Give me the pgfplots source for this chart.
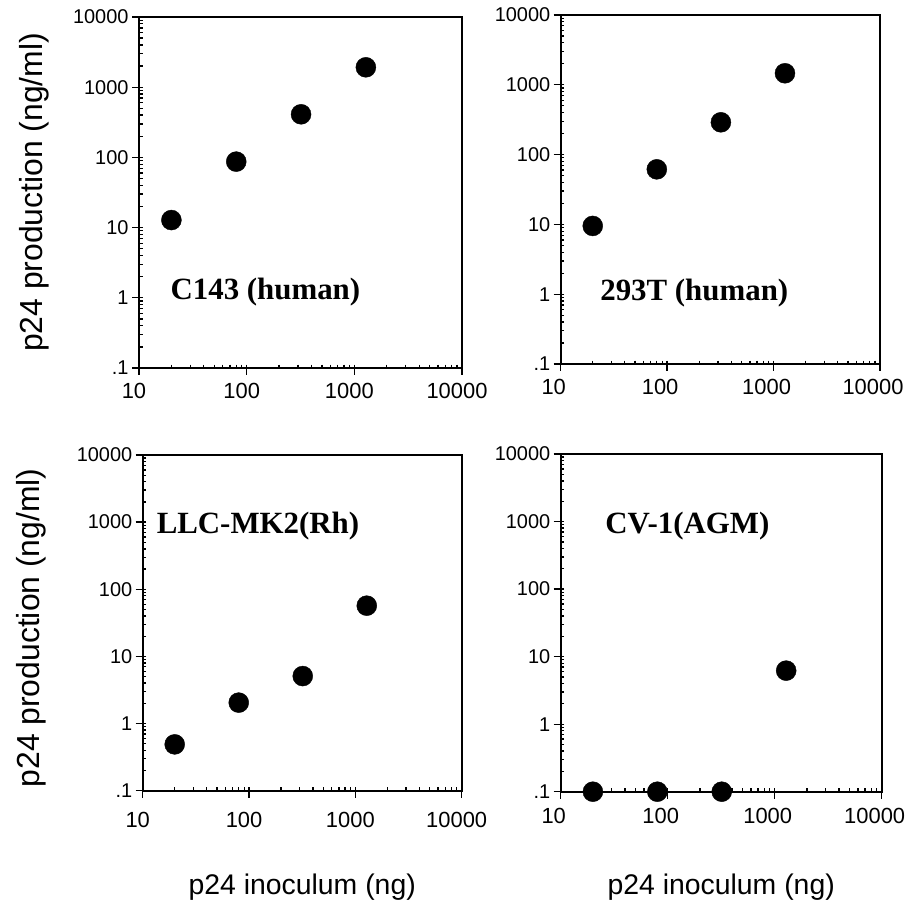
\documentclass[border=0pt]{standalone}
\usepackage{fontspec}
\setmainfont{Liberation Sans}
\newfontfamily\timesfont{Liberation Serif}
\usepackage{pgfplots}
\pgfplotsset{compat=1.18}
\tikzset{myLab/.style={anchor=base west, font=\timesfont\bfseries\fontsize{31}{34}\selectfont}}
\begin{document}
\begin{tikzpicture}
\path[use as bounding box] (0,0) rectangle (906bp,900bp);

% Top-left
\begin{axis}[xmode=log, ymode=log,
    xmin=10, xmax=10000, ymin=0.1, ymax=10000,
    scale only axis, anchor=south west, clip=false,
    tick align=outside, tick pos=left,
    major tick length=7bp, minor tick length=-3.5bp,
    axis line style={line width=2bp},
    tick style={black, line width=1.3bp},
    xtick={10,100,1000,10000},
    xticklabels={10,100,1000,10000},
    ytick={0.1,1,10,100,1000,10000},
    yticklabels={.1,1,10,100,1000,10000},
    yticklabel style={font=\fontsize{20}{24}\selectfont},
    xticklabel style={font=\fontsize{22}{26}\selectfont},
    at={(139bp,532bp)}, width=323bp, height=351bp,
    xticklabel style={yshift=-5bp, xshift=-5bp},
    ylabel={p24 production (ng/ml)},
    ylabel style={font=\fontsize{32}{36}\selectfont, at={(rel axis cs:0,0.5)}, anchor=center, yshift=105bp}]
\addplot[only marks, mark=*, mark size=10bp, mark options={fill=black, draw=black}] coordinates {(20,12.8) (80,87) (320,411) (1280,1920)};
\node[myLab] at (rel axis cs:0.087,0.194) {C143 (human)};
\end{axis}

% Top-right
\begin{axis}[xmode=log, ymode=log,
    xmin=10, xmax=10000, ymin=0.1, ymax=10000,
    scale only axis, anchor=south west, clip=false,
    tick align=outside, tick pos=left,
    major tick length=7bp, minor tick length=-3.5bp,
    axis line style={line width=2bp},
    tick style={black, line width=1.3bp},
    xtick={10,100,1000,10000},
    xticklabels={10,100,1000,10000},
    ytick={0.1,1,10,100,1000,10000},
    yticklabels={.1,1,10,100,1000,10000},
    yticklabel style={font=\fontsize{20}{24}\selectfont},
    xticklabel style={font=\fontsize{22}{26}\selectfont},
    at={(560.7bp,536bp)}, width=319.3bp, height=349bp,
    xticklabel style={yshift=-5bp, xshift=-7bp}]
\addplot[only marks, mark=*, mark size=10bp, mark options={fill=black, draw=black}] coordinates {(20,9.5) (80,61.5) (320,290) (1280,1462)};
\node[myLab] at (rel axis cs:0.113,0.183) {293T (human)};
\end{axis}

% Bottom-left
\begin{axis}[xmode=log, ymode=log,
    xmin=10, xmax=10000, ymin=0.1, ymax=10000,
    scale only axis, anchor=south west, clip=false,
    tick align=outside, tick pos=left,
    major tick length=7bp, minor tick length=-3.5bp,
    axis line style={line width=2bp},
    tick style={black, line width=1.3bp},
    xtick={10,100,1000,10000},
    xticklabels={10,100,1000,10000},
    ytick={0.1,1,10,100,1000,10000},
    yticklabels={.1,1,10,100,1000,10000},
    yticklabel style={font=\fontsize{20}{24}\selectfont},
    xticklabel style={font=\fontsize{22}{26}\selectfont},
    at={(142.7bp,109.3bp)}, width=319bp, height=335.7bp,
    xticklabel style={yshift=-11bp, xshift=-5bp},
    ylabel={p24 production (ng/ml)},
    ylabel style={font=\fontsize{32}{36}\selectfont, at={(rel axis cs:0,0.485)}, anchor=center, yshift=111.7bp},
    xlabel={p24 inoculum (ng)},
    xlabel style={font=\fontsize{28.5}{32}\selectfont, at={(rel axis cs:0.5,0)}, anchor=base, yshift=-103.3bp}]
\addplot[only marks, mark=*, mark size=10bp, mark options={fill=black, draw=black}] coordinates {(20,0.49) (80,2.05) (320,5.1) (1280,57)};
\node[myLab] at (rel axis cs:0.033,0.767) {LLC-MK2(Rh)};
\end{axis}

% Bottom-right
\begin{axis}[xmode=log, ymode=log,
    xmin=10, xmax=10000, ymin=0.1, ymax=10000,
    scale only axis, anchor=south west, clip=false,
    tick align=outside, tick pos=left,
    major tick length=7bp, minor tick length=-3.5bp,
    axis line style={line width=2bp},
    tick style={black, line width=1.3bp},
    xtick={10,100,1000,10000},
    xticklabels={10,100,1000,10000},
    ytick={0.1,1,10,100,1000,10000},
    yticklabels={.1,1,10,100,1000,10000},
    yticklabel style={font=\fontsize{20}{24}\selectfont},
    xticklabel style={font=\fontsize{22}{26}\selectfont},
    at={(560.7bp,108.3bp)}, width=321bp, height=337.7bp,
    xticklabel style={yshift=-6bp, xshift=-7bp},
    xlabel={p24 inoculum (ng)},
    xlabel style={font=\fontsize{28.5}{32}\selectfont, at={(rel axis cs:0.5,0)}, anchor=base, yshift=-102.3bp}]
\addplot[only marks, mark=*, mark size=10bp, mark options={fill=black, draw=black}] coordinates {(20,0.1) (80,0.1) (320,0.1) (1280,6.2)};
\node[myLab] at (rel axis cs:0.128,0.765) {CV-1(AGM)};
\end{axis}
\end{tikzpicture}
\end{document}
